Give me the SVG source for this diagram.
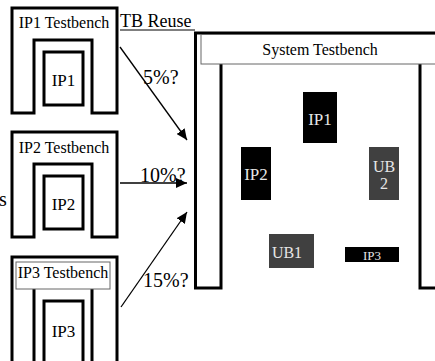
<svg xmlns="http://www.w3.org/2000/svg" width="435" height="361" viewBox="0 0 435 361" font-family="'Liberation Serif', 'Times New Roman', serif">
<style>
.u{fill:none;stroke:#000;stroke-width:3;stroke-linejoin:miter}
.box{fill:#fff;stroke:#000;stroke-width:3}
.hdr{fill:#fff;stroke:#666;stroke-width:1}
text{font-family:'Liberation Serif','Times New Roman',serif}
.t{fill:#000}
.w{fill:#e6e6e6;text-anchor:middle}
.c{text-anchor:middle}
.blk{fill:#000}
.gry{fill:#404040}
.arr{stroke:#000;stroke-width:1.3;fill:none;marker-end:url(#ah)}
</style>
<defs>
<marker id="ah" markerUnits="userSpaceOnUse" markerWidth="12" markerHeight="10" refX="11" refY="5" orient="auto">
<path d="M0,0 L11,5 L0,10 Z" fill="#000"/>
</marker>
</defs>
<rect width="435" height="361" fill="#fff"/>
<g id="ip1tb">
<path class="u" d="M12,113 V8 H117 V113 H92 V40 H34 V113 Z"/>
<text class="t c" x="64" y="28" font-size="16">IP1 Testbench</text>
<rect class="box" x="44" y="52" width="39" height="53"/>
<text class="t c" x="63.5" y="86" font-size="17">IP1</text>
</g>
<g id="ip2tb">
<path class="u" d="M12,237 V132 H117 V237 H92 V164 H34 V237 Z"/>
<text class="t c" x="64" y="153" font-size="16">IP2 Testbench</text>
<rect class="box" x="44" y="176" width="39" height="53"/>
<text class="t c" x="63.5" y="210" font-size="17">IP2</text>
</g>
<g id="ip3tb">
<path class="u" d="M12,370 V257 H117 V370 H92 V285 H34 V370 Z"/>
<rect class="hdr" x="16" y="262" width="94" height="27"/>
<text class="t c" x="63" y="278" font-size="16">IP3 Testbench</text>
<rect class="box" x="44" y="301" width="39" height="70"/>
<text class="t c" x="63.5" y="337" font-size="17">IP3</text>
</g>
<g id="systb">
<path class="u" d="M195.5,288 V33 H445 V288 H420 V60 H221 V288 Z"/>
<rect class="hdr" x="201" y="34.5" width="250" height="29.5"/>
<text class="t c" x="320" y="55" font-size="16">System Testbench</text>
</g>
<g id="sys-ip1">
<rect class="blk" x="303" y="92" width="34" height="51"/>
<text class="w" x="320" y="125" font-size="17">IP1</text>
</g>
<g id="sys-ip2">
<rect class="blk" x="241" y="147" width="30" height="53"/>
<text class="w" x="256" y="180" font-size="17">IP2</text>
</g>
<g id="sys-ub2">
<rect class="gry" x="369" y="147" width="30" height="53"/>
<text class="w" x="384" y="172" font-size="16">UB</text>
<text class="w" x="384" y="189" font-size="16">2</text>
</g>
<g id="sys-ub1">
<rect class="gry" x="269" y="234" width="45" height="34"/>
<text class="w" x="287" y="258" font-size="16">UB1</text>
</g>
<g id="sys-ip3">
<rect class="blk" x="345" y="247" width="54" height="15"/>
<text class="w" x="372" y="260" font-size="13">IP3</text>
</g>
<g id="labels">
<text class="t" x="120" y="27" font-size="18">TB Reuse</text>
<line x1="120" y1="30" x2="195" y2="30" stroke="#000" stroke-width="1.2"/>
<text class="t" x="143" y="84" font-size="20">5%?</text>
<text class="t" x="140" y="182" font-size="20">10%?</text>
<text class="t" x="143" y="287" font-size="20">15%?</text>
<text class="t" x="-1" y="206" font-size="20">s</text>
</g>
<g id="connectors">
<line class="arr" x1="120" y1="47" x2="187" y2="140"/>
<line class="arr" x1="120" y1="183" x2="187" y2="183"/>
<line class="arr" x1="121" y1="307" x2="187" y2="212"/>
</g>
</svg>
